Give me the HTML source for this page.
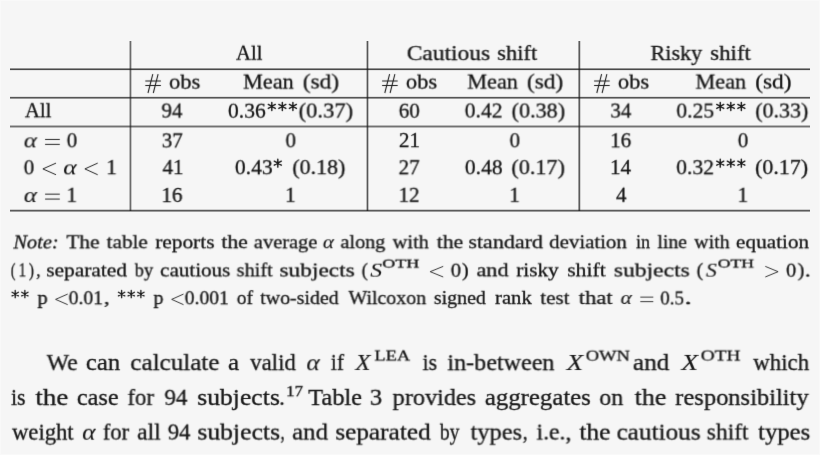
<!DOCTYPE html>
<html><head><meta charset="utf-8"><title>Table 3</title>
<style>
html,body{margin:0;padding:0}
body{width:820px;height:455px;background:#f6f6f6;position:relative;overflow:hidden;font-family:"Liberation Serif",serif;color:#161616}
.t{position:absolute;left:0;top:0;white-space:nowrap;line-height:1;transform-origin:0 0;-webkit-text-stroke:0.3px #161616}
.sup{font-size:0.7em;position:relative;top:-0.5em;font-style:normal;letter-spacing:0.02em}
.l{position:absolute;background:#1a1a1a}
.bd{position:absolute;left:0;top:0;width:820px;height:455px;box-sizing:border-box;border:1px solid #f9f9f9}
.w{position:absolute;left:0;top:0;width:820px;height:455px;filter:url(#soft)}
</style></head>
<body>

<svg width="0" height="0" style="position:absolute"><filter id="soft" x="0" y="0" width="100%" height="100%" color-interpolation-filters="sRGB"><feConvolveMatrix order="3" kernelMatrix="0.0049 0.0602 0.0049 0.0602 0.7396 0.0602 0.0049 0.0602 0.0049" edgeMode="duplicate" preserveAlpha="false"/></filter></svg>
<div class="bd"></div>
<div class="l" style="left:10px;top:68px;width:800px;height:1px;opacity:0.44"></div>
<div class="l" style="left:10px;top:69px;width:800px;height:1px;opacity:0.78"></div>
<div class="l" style="left:10px;top:70px;width:800px;height:1px;opacity:0.08"></div>
<div class="l" style="left:10px;top:96px;width:800px;height:1px;opacity:0.10"></div>
<div class="l" style="left:10px;top:97px;width:800px;height:1px;opacity:0.73"></div>
<div class="l" style="left:10px;top:98px;width:800px;height:1px;opacity:0.43"></div>
<div class="l" style="left:10px;top:125px;width:800px;height:1px;opacity:0.28"></div>
<div class="l" style="left:10px;top:126px;width:800px;height:1px;opacity:0.60"></div>
<div class="l" style="left:10px;top:127px;width:800px;height:1px;opacity:0.28"></div>
<div class="l" style="left:10px;top:209px;width:800px;height:1px;opacity:0.18"></div>
<div class="l" style="left:10px;top:210px;width:800px;height:1px;opacity:0.70"></div>
<div class="l" style="left:10px;top:211px;width:800px;height:1px;opacity:0.40"></div>
<div class="l" style="left:129px;top:41px;width:1px;height:170px;opacity:0.28"></div>
<div class="l" style="left:130px;top:41px;width:1px;height:170px;opacity:0.63"></div>
<div class="l" style="left:131px;top:41px;width:1px;height:170px;opacity:0.22"></div>
<div class="l" style="left:366px;top:41px;width:1px;height:170px;opacity:0.28"></div>
<div class="l" style="left:367px;top:41px;width:1px;height:170px;opacity:0.73"></div>
<div class="l" style="left:368px;top:41px;width:1px;height:170px;opacity:0.24"></div>
<div class="l" style="left:578px;top:41px;width:1px;height:170px;opacity:0.40"></div>
<div class="l" style="left:579px;top:41px;width:1px;height:170px;opacity:0.70"></div>
<div class="l" style="left:580px;top:41px;width:1px;height:170px;opacity:0.16"></div>
<div class="w">
<svg style="position:absolute;left:0;top:0" width="820" height="455" viewBox="0 0 820 455" fill="none" stroke="#1a1a1a" stroke-width="1.05" stroke-linecap="butt"><path d="M145.30 80.95H160.90M145.30 85.5H160.90M148.00 93L152.80 74.1M153.30 93L158.10 74.1"/><path d="M382.10 80.95H397.70M382.10 85.5H397.70M384.80 93L389.60 74.1M390.10 93L394.90 74.1"/><path d="M594.10 80.95H609.70M594.10 85.5H609.70M596.80 93L601.60 74.1M602.10 93L606.90 74.1"/><path stroke-width="0.95" d="M45.10 139.46H59.80M45.10 144.39H59.80"/><path stroke-width="0.95" stroke-linejoin="miter" d="M56.00 163.11L42.90 168.92L56.00 174.74"/><path stroke-width="0.95" stroke-linejoin="miter" d="M97.70 163.11L84.90 168.92L97.70 174.74"/><path stroke-width="0.95" d="M45.10 194.16H59.80M45.10 199.09H59.80"/><path stroke-width="0.87" stroke-linejoin="miter" d="M443.20 266.39L430.20 271.68L443.20 276.97"/><path stroke-width="0.87" stroke-linejoin="miter" d="M765.30 266.39L778.10 271.68L765.30 276.97"/><path stroke-width="0.87" stroke-linejoin="miter" d="M67.70 294.09L55.60 299.38L67.70 304.67"/><path stroke-width="0.87" stroke-linejoin="miter" d="M183.50 294.09L171.70 299.38L183.50 304.67"/><path stroke-width="0.87" d="M640.30 297.13H653.30M640.30 301.64H653.30"/><path stroke-width="1.45" stroke-linecap="round" d="M271.80 102.45V110.43M268.30 104.45L275.30 108.44M268.30 108.44L275.30 104.45"/><circle cx="271.80" cy="106.44" r="1.32" fill="#1a1a1a" stroke="none"/><path stroke-width="1.45" stroke-linecap="round" d="M282.35 102.45V110.43M278.85 104.45L285.85 108.44M278.85 108.44L285.85 104.45"/><circle cx="282.35" cy="106.44" r="1.32" fill="#1a1a1a" stroke="none"/><path stroke-width="1.45" stroke-linecap="round" d="M292.90 102.45V110.43M289.40 104.45L296.40 108.44M289.40 108.44L296.40 104.45"/><circle cx="292.90" cy="106.44" r="1.32" fill="#1a1a1a" stroke="none"/><path stroke-width="1.45" stroke-linecap="round" d="M720.25 102.45V110.43M716.75 104.45L723.75 108.44M716.75 108.44L723.75 104.45"/><circle cx="720.25" cy="106.44" r="1.32" fill="#1a1a1a" stroke="none"/><path stroke-width="1.45" stroke-linecap="round" d="M730.80 102.45V110.43M727.30 104.45L734.30 108.44M727.30 108.44L734.30 104.45"/><circle cx="730.80" cy="106.44" r="1.32" fill="#1a1a1a" stroke="none"/><path stroke-width="1.45" stroke-linecap="round" d="M741.35 102.45V110.43M737.85 104.45L744.85 108.44M737.85 108.44L744.85 104.45"/><circle cx="741.35" cy="106.44" r="1.32" fill="#1a1a1a" stroke="none"/><path stroke-width="1.45" stroke-linecap="round" d="M277.80 159.15V167.13M274.30 161.15L281.30 165.14M274.30 165.14L281.30 161.15"/><circle cx="277.80" cy="163.14" r="1.32" fill="#1a1a1a" stroke="none"/><path stroke-width="1.45" stroke-linecap="round" d="M720.25 159.15V167.13M716.75 161.15L723.75 165.14M716.75 165.14L723.75 161.15"/><circle cx="720.25" cy="163.14" r="1.32" fill="#1a1a1a" stroke="none"/><path stroke-width="1.45" stroke-linecap="round" d="M730.80 159.15V167.13M727.30 161.15L734.30 165.14M727.30 165.14L734.30 161.15"/><circle cx="730.80" cy="163.14" r="1.32" fill="#1a1a1a" stroke="none"/><path stroke-width="1.45" stroke-linecap="round" d="M741.35 159.15V167.13M737.85 161.15L744.85 165.14M737.85 165.14L744.85 161.15"/><circle cx="741.35" cy="163.14" r="1.32" fill="#1a1a1a" stroke="none"/><path stroke-width="1.32" stroke-linecap="round" d="M15.23 290.49V297.71M12.06 292.30L18.40 295.91M12.06 295.91L18.40 292.30"/><circle cx="15.23" cy="294.10" r="1.20" fill="#1a1a1a" stroke="none"/><path stroke-width="1.32" stroke-linecap="round" d="M24.87 290.49V297.71M21.70 292.30L28.04 295.91M21.70 295.91L28.04 292.30"/><circle cx="24.87" cy="294.10" r="1.20" fill="#1a1a1a" stroke="none"/><path stroke-width="1.32" stroke-linecap="round" d="M121.61 290.49V297.71M118.44 292.30L124.79 295.91M118.44 295.91L124.79 292.30"/><circle cx="121.61" cy="294.10" r="1.20" fill="#1a1a1a" stroke="none"/><path stroke-width="1.32" stroke-linecap="round" d="M131.25 290.49V297.71M128.08 292.30L134.42 295.91M128.08 295.91L134.42 292.30"/><circle cx="131.25" cy="294.10" r="1.20" fill="#1a1a1a" stroke="none"/><path stroke-width="1.32" stroke-linecap="round" d="M140.88 290.49V297.71M137.71 292.30L144.06 295.91M137.71 295.91L144.06 292.30"/><circle cx="140.88" cy="294.10" r="1.20" fill="#1a1a1a" stroke="none"/></svg>
<div class="t" style="font-size:20.40px;transform:translate(235.98px,42.70px) rotateX(0.01deg) scale(1.0115,1.0000)">All</div>
<div class="t" style="font-size:20.40px;transform:translate(406.70px,43.08px) rotateX(0.01deg) scale(1.1510,1.0000)">Cautious</div>
<div class="t" style="font-size:20.40px;transform:translate(497.34px,42.91px) rotateX(0.01deg) scale(1.1028,1.0000)">shift</div>
<div class="t" style="font-size:20.40px;transform:translate(650.61px,42.94px) rotateX(0.01deg) scale(1.0830,1.0000)">Risky</div>
<div class="t" style="font-size:20.40px;transform:translate(710.31px,42.90px) rotateX(0.01deg) scale(1.1167,1.0000)">shift</div>
<div class="t" style="font-size:20.40px;transform:translate(169.17px,71.63px) rotateX(0.01deg) scale(1.0945,1.0000)">obs</div>
<div class="t" style="font-size:20.40px;transform:translate(405.98px,71.62px) rotateX(0.01deg) scale(1.0945,1.0000)">obs</div>
<div class="t" style="font-size:20.40px;transform:translate(617.98px,71.62px) rotateX(0.01deg) scale(1.0945,1.0000)">obs</div>
<div class="t" style="font-size:20.40px;transform:translate(243.19px,71.59px) rotateX(0.01deg) scale(1.0891,1.0000)">Mean</div>
<div class="t" style="font-size:20.40px;transform:translate(302.69px,71.45px) rotateX(0.01deg) scale(1.1443,1.0000)">(sd)</div>
<div class="t" style="font-size:20.40px;transform:translate(467.34px,71.59px) rotateX(0.01deg) scale(1.0891,1.0000)">Mean</div>
<div class="t" style="font-size:20.40px;transform:translate(526.79px,71.45px) rotateX(0.01deg) scale(1.1443,1.0000)">(sd)</div>
<div class="t" style="font-size:20.40px;transform:translate(695.58px,71.59px) rotateX(0.01deg) scale(1.0891,1.0000)">Mean</div>
<div class="t" style="font-size:20.40px;transform:translate(755.10px,71.46px) rotateX(0.01deg) scale(1.1443,1.0000)">(sd)</div>
<div class="t" style="font-size:20.40px;transform:translate(24.88px,100.22px) rotateX(0.01deg) scale(1.0192,1.0000)">All</div>
<div class="t" style="font-size:20.40px;transform:translate(161.52px,100.51px) rotateX(0.01deg) scale(1.0300,1.0000)">94</div>
<div class="t" style="font-size:20.40px;transform:translate(228.05px,100.72px) rotateX(0.01deg) scale(1.0543,1.0000)">0.36</div>
<div class="t" style="font-size:20.40px;transform:translate(298.67px,100.55px) rotateX(0.01deg) scale(1.1021,1.0000)">(0.37)</div>
<div class="t" style="font-size:20.40px;transform:translate(398.77px,100.70px) rotateX(0.01deg) scale(1.0300,1.0000)">60</div>
<div class="t" style="font-size:20.40px;transform:translate(464.80px,100.44px) rotateX(0.01deg) scale(1.0551,1.0000)">0.42</div>
<div class="t" style="font-size:20.40px;transform:translate(511.59px,100.55px) rotateX(0.01deg) scale(1.0854,1.0000)">(0.38)</div>
<div class="t" style="font-size:20.40px;transform:translate(610.36px,100.53px) rotateX(0.01deg) scale(1.0300,1.0000)">34</div>
<div class="t" style="font-size:20.40px;transform:translate(676.41px,100.62px) rotateX(0.01deg) scale(1.0580,1.0000)">0.25</div>
<div class="t" style="font-size:20.40px;transform:translate(755.33px,100.53px) rotateX(0.01deg) scale(1.0750,1.0000)">(0.33)</div>
<div class="t" style="font-size:20.40px;transform:translate(23.74px,129.36px) rotateX(0.01deg) scale(1.2286,1.0300)"><i style="-webkit-text-stroke:0.1px #161616">α</i></div>
<div class="t" style="font-size:20.40px;transform:translate(66.76px,130.29px) rotateX(0.01deg) scale(1.0300,1.0000)">0</div>
<div class="t" style="font-size:20.40px;transform:translate(161.76px,130.41px) rotateX(0.01deg) scale(1.0300,1.0000)">37</div>
<div class="t" style="font-size:20.40px;transform:translate(285.47px,130.29px) rotateX(0.01deg) scale(1.0300,1.0000)">0</div>
<div class="t" style="font-size:20.40px;transform:translate(398.94px,130.03px) rotateX(0.01deg) scale(1.0300,1.0000)">21</div>
<div class="t" style="font-size:20.40px;transform:translate(509.55px,130.29px) rotateX(0.01deg) scale(1.0300,1.0000)">0</div>
<div class="t" style="font-size:20.40px;transform:translate(610.18px,130.28px) rotateX(0.01deg) scale(1.0300,1.0000)">16</div>
<div class="t" style="font-size:20.40px;transform:translate(737.82px,130.29px) rotateX(0.01deg) scale(1.0300,1.0000)">0</div>
<div class="t" style="font-size:20.40px;transform:translate(23.76px,157.29px) rotateX(0.01deg) scale(1.0300,1.0000)">0</div>
<div class="t" style="font-size:20.40px;transform:translate(63.21px,156.35px) rotateX(0.01deg) scale(1.2571,1.0300)"><i style="-webkit-text-stroke:0.1px #161616">α</i></div>
<div class="t" style="font-size:20.40px;transform:translate(106.28px,157.08px) rotateX(0.01deg) scale(1.0300,1.0000)">1</div>
<div class="t" style="font-size:20.40px;transform:translate(162.49px,157.03px) rotateX(0.01deg) scale(1.0300,1.0000)">41</div>
<div class="t" style="font-size:20.40px;transform:translate(234.97px,157.21px) rotateX(0.01deg) scale(1.0551,1.0000)">0.43</div>
<div class="t" style="font-size:20.40px;transform:translate(292.41px,157.11px) rotateX(0.01deg) scale(1.0729,1.0000)">(0.18)</div>
<div class="t" style="font-size:20.40px;transform:translate(398.60px,157.20px) rotateX(0.01deg) scale(1.0300,1.0000)">27</div>
<div class="t" style="font-size:20.40px;transform:translate(464.87px,157.19px) rotateX(0.01deg) scale(1.0551,1.0000)">0.48</div>
<div class="t" style="font-size:20.40px;transform:translate(511.42px,157.14px) rotateX(0.01deg) scale(1.0854,1.0000)">(0.17)</div>
<div class="t" style="font-size:20.40px;transform:translate(610.04px,157.03px) rotateX(0.01deg) scale(1.0300,1.0000)">14</div>
<div class="t" style="font-size:20.40px;transform:translate(676.30px,157.24px) rotateX(0.01deg) scale(1.0580,1.0000)">0.32</div>
<div class="t" style="font-size:20.40px;transform:translate(755.20px,157.11px) rotateX(0.01deg) scale(1.0750,1.0000)">(0.17)</div>
<div class="t" style="font-size:20.40px;transform:translate(23.75px,184.06px) rotateX(0.01deg) scale(1.2286,1.0300)"><i style="-webkit-text-stroke:0.1px #161616">α</i></div>
<div class="t" style="font-size:20.40px;transform:translate(66.49px,184.79px) rotateX(0.01deg) scale(1.0300,1.0000)">1</div>
<div class="t" style="font-size:20.40px;transform:translate(161.40px,184.99px) rotateX(0.01deg) scale(1.0300,1.0000)">16</div>
<div class="t" style="font-size:20.40px;transform:translate(285.15px,184.79px) rotateX(0.01deg) scale(1.0300,1.0000)">1</div>
<div class="t" style="font-size:20.40px;transform:translate(398.51px,184.76px) rotateX(0.01deg) scale(1.0300,1.0000)">12</div>
<div class="t" style="font-size:20.40px;transform:translate(509.28px,184.80px) rotateX(0.01deg) scale(1.0300,1.0000)">1</div>
<div class="t" style="font-size:20.40px;transform:translate(615.98px,184.72px) rotateX(0.01deg) scale(1.0300,1.0000)">4</div>
<div class="t" style="font-size:20.40px;transform:translate(737.56px,184.78px) rotateX(0.01deg) scale(1.0300,1.0000)">1</div>
<div class="t" style="font-size:18.90px;transform:translate(13.32px,233.43px) rotateX(0.01deg) scale(1.0805,1.0000)"><i>Note:</i></div>
<div class="t" style="font-size:18.90px;transform:translate(66.44px,233.28px) rotateX(0.01deg) scale(1.1241,1.0000)">The</div>
<div class="t" style="font-size:18.90px;transform:translate(106.63px,233.25px) rotateX(0.01deg) scale(1.1205,1.0000)">table</div>
<div class="t" style="font-size:18.90px;transform:translate(155.16px,233.27px) rotateX(0.01deg) scale(1.1308,1.0000)">reports</div>
<div class="t" style="font-size:18.90px;transform:translate(221.28px,233.18px) rotateX(0.01deg) scale(1.1511,1.0000)">the</div>
<div class="t" style="font-size:18.90px;transform:translate(253.78px,233.29px) rotateX(0.01deg) scale(1.0828,1.0000)">average</div>
<div class="t" style="font-size:18.90px;transform:translate(322.98px,233.22px) rotateX(0.01deg) scale(1.1100,1.0000)"><i style="-webkit-text-stroke:0.1px #161616">α</i></div>
<div class="t" style="font-size:18.90px;transform:translate(340.50px,233.17px) rotateX(0.01deg) scale(1.0699,1.0000)">along</div>
<div class="t" style="font-size:18.90px;transform:translate(392.70px,233.27px) rotateX(0.01deg) scale(1.0776,1.0000)">with</div>
<div class="t" style="font-size:18.90px;transform:translate(436.66px,233.18px) rotateX(0.01deg) scale(1.1511,1.0000)">the</div>
<div class="t" style="font-size:18.90px;transform:translate(468.32px,233.24px) rotateX(0.01deg) scale(1.1669,1.0000)">standard</div>
<div class="t" style="font-size:18.90px;transform:translate(549.27px,233.25px) rotateX(0.01deg) scale(1.1043,1.0000)">deviation</div>
<div class="t" style="font-size:18.90px;transform:translate(635.99px,233.19px) rotateX(0.01deg) scale(0.9517,1.0000)">in</div>
<div class="t" style="font-size:18.90px;transform:translate(657.43px,233.13px) rotateX(0.01deg) scale(1.0429,1.0000)">line</div>
<div class="t" style="font-size:18.90px;transform:translate(694.28px,233.23px) rotateX(0.01deg) scale(1.0537,1.0000)">with</div>
<div class="t" style="font-size:18.90px;transform:translate(736.04px,233.25px) rotateX(0.01deg) scale(1.1225,1.0000)">equation</div>
<div class="t" style="font-size:18.90px;transform:translate(10.83px,261.34px) rotateX(0.01deg) scale(0.7455,1.0000)">(</div>
<div class="t" style="font-size:18.90px;transform:translate(18.56px,261.32px) rotateX(0.01deg) scale(0.8000,1.0000)">1</div>
<div class="t" style="font-size:18.90px;transform:translate(28.90px,261.33px) rotateX(0.01deg) scale(0.8200,1.0000)">)</div>
<div class="t" style="font-size:18.90px;transform:translate(36.11px,261.18px) rotateX(0.01deg) scale(0.9429,1.0000)">,</div>
<div class="t" style="font-size:18.90px;transform:translate(46.16px,261.39px) rotateX(0.01deg) scale(1.1324,1.0000)">separated</div>
<div class="t" style="font-size:18.90px;transform:translate(134.60px,261.43px) rotateX(0.01deg) scale(0.9737,1.0000)">by</div>
<div class="t" style="font-size:18.90px;transform:translate(160.23px,261.41px) rotateX(0.01deg) scale(1.1129,1.0000)">cautious</div>
<div class="t" style="font-size:18.90px;transform:translate(236.64px,261.35px) rotateX(0.01deg) scale(1.0746,1.0000)">shift</div>
<div class="t" style="font-size:18.90px;transform:translate(279.46px,261.44px) rotateX(0.01deg) scale(1.2367,1.0000)">subjects</div>
<div class="t" style="font-size:18.90px;transform:translate(361.65px,261.32px) rotateX(0.01deg) scale(0.9818,1.0000)">(</div>
<div class="t" style="font-size:18.90px;transform:translate(370.25px,261.63px) rotateX(0.01deg) scale(1.2526,1.0000)"><i style="-webkit-text-stroke:0.1px #161616">S</i></div>
<div class="t" style="font-size:18.90px;transform:translate(450.81px,261.68px) rotateX(0.01deg) scale(1.0941,1.0000)">0</div>
<div class="t" style="font-size:18.90px;transform:translate(462.04px,261.34px) rotateX(0.01deg) scale(1.0600,1.0000)">)</div>
<div class="t" style="font-size:18.90px;transform:translate(476.38px,261.28px) rotateX(0.01deg) scale(1.1815,1.0000)">and</div>
<div class="t" style="font-size:18.90px;transform:translate(516.08px,261.37px) rotateX(0.01deg) scale(1.1289,1.0000)">risky</div>
<div class="t" style="font-size:18.90px;transform:translate(567.13px,261.32px) rotateX(0.01deg) scale(1.1522,1.0000)">shift</div>
<div class="t" style="font-size:18.90px;transform:translate(613.79px,261.45px) rotateX(0.01deg) scale(1.2467,1.0000)">subjects</div>
<div class="t" style="font-size:18.90px;transform:translate(696.65px,261.31px) rotateX(0.01deg) scale(1.0545,1.0000)">(</div>
<div class="t" style="font-size:18.90px;transform:translate(705.81px,261.64px) rotateX(0.01deg) scale(1.1474,1.0000)"><i style="-webkit-text-stroke:0.1px #161616">S</i></div>
<div class="t" style="font-size:18.90px;transform:translate(786.19px,261.66px) rotateX(0.01deg) scale(1.0706,1.0000)">0</div>
<div class="t" style="font-size:18.90px;transform:translate(797.65px,261.37px) rotateX(0.01deg) scale(1.0800,1.0000)">)</div>
<div class="t" style="font-size:18.90px;transform:translate(804.80px,261.58px) rotateX(0.01deg) scale(1.2400,1.0000)">.</div>
<div class="t" style="font-size:12.40px;transform:translate(382.20px,257.57px) rotateX(0.01deg) scale(1.4560,1.0000)">OTH</div>
<div class="t" style="font-size:12.40px;transform:translate(717.67px,257.56px) rotateX(0.01deg) scale(1.4280,1.0000)">OTH</div>
<div class="t" style="font-size:18.90px;transform:translate(37.49px,288.97px) rotateX(0.01deg) scale(1.0889,1.0000)">p</div>
<div class="t" style="font-size:18.90px;transform:translate(68.67px,289.23px) rotateX(0.01deg) scale(1.0349,1.0000)">0.01</div>
<div class="t" style="font-size:18.90px;transform:translate(103.77px,288.89px) rotateX(0.01deg) scale(1.2571,1.0000)">,</div>
<div class="t" style="font-size:18.90px;transform:translate(153.52px,288.98px) rotateX(0.01deg) scale(1.0556,1.0000)">p</div>
<div class="t" style="font-size:18.90px;transform:translate(184.75px,289.25px) rotateX(0.01deg) scale(1.0341,1.0000)">0.001</div>
<div class="t" style="font-size:18.90px;transform:translate(236.83px,289.04px) rotateX(0.01deg) scale(1.0194,1.0000)">of</div>
<div class="t" style="font-size:18.90px;transform:translate(260.28px,289.07px) rotateX(0.01deg) scale(1.0523,1.0000)">two-sided</div>
<div class="t" style="font-size:18.90px;transform:translate(348.49px,289.08px) rotateX(0.01deg) scale(1.0517,1.0000)">Wilcoxon</div>
<div class="t" style="font-size:18.90px;transform:translate(433.91px,289.03px) rotateX(0.01deg) scale(1.0531,1.0000)">signed</div>
<div class="t" style="font-size:18.90px;transform:translate(495.06px,288.91px) rotateX(0.01deg) scale(1.0912,1.0000)">rank</div>
<div class="t" style="font-size:18.90px;transform:translate(540.33px,289.13px) rotateX(0.01deg) scale(1.1170,1.0000)">test</div>
<div class="t" style="font-size:18.90px;transform:translate(578.75px,288.98px) rotateX(0.01deg) scale(1.1895,1.0000)">that</div>
<div class="t" style="font-size:18.90px;transform:translate(620.71px,288.99px) rotateX(0.01deg) scale(1.1200,1.0000)"><i style="-webkit-text-stroke:0.1px #161616">α</i></div>
<div class="t" style="font-size:18.90px;transform:translate(660.31px,289.45px) rotateX(0.01deg) scale(1.0000,1.0000)">0.5</div>
<div class="t" style="font-size:18.90px;transform:translate(684.25px,289.21px) rotateX(0.01deg) scale(1.6400,1.0000)">.</div>
<div class="t" style="font-size:22.30px;transform:translate(46.70px,352.13px) rotateX(0.01deg) scale(1.0596,1.0000)">We</div>
<div class="t" style="font-size:22.30px;transform:translate(85.94px,352.00px) rotateX(0.01deg) scale(1.1016,1.0000)">can</div>
<div class="t" style="font-size:22.30px;transform:translate(130.40px,352.09px) rotateX(0.01deg) scale(1.1244,1.0000)">calculate</div>
<div class="t" style="font-size:22.30px;transform:translate(228.17px,351.98px) rotateX(0.01deg) scale(1.1158,1.0000)">a</div>
<div class="t" style="font-size:22.30px;transform:translate(250.18px,352.11px) rotateX(0.01deg) scale(1.0225,1.0000)">valid</div>
<div class="t" style="font-size:22.30px;transform:translate(306.37px,352.19px) rotateX(0.01deg) scale(1.1391,1.0000)"><i style="-webkit-text-stroke:0.1px #161616">α</i></div>
<div class="t" style="font-size:22.30px;transform:translate(330.72px,351.84px) rotateX(0.01deg) scale(0.9643,1.0000)">if</div>
<div class="t" style="font-size:22.30px;transform:translate(355.43px,351.90px) rotateX(0.01deg) scale(1.1032,1.0000)"><i style="-webkit-text-stroke:0.1px #161616">X</i></div>
<div class="t" style="font-size:22.30px;transform:translate(422.53px,352.01px) rotateX(0.01deg) scale(0.9862,1.0000)">is</div>
<div class="t" style="font-size:22.30px;transform:translate(447.45px,352.15px) rotateX(0.01deg) scale(1.0808,1.0000)">in-between</div>
<div class="t" style="font-size:22.30px;transform:translate(566.62px,351.94px) rotateX(0.01deg) scale(1.2000,1.0000)"><i style="-webkit-text-stroke:0.1px #161616">X</i></div>
<div class="t" style="font-size:22.30px;transform:translate(632.75px,352.02px) rotateX(0.01deg) scale(1.1365,1.0000)">and</div>
<div class="t" style="font-size:22.30px;transform:translate(681.32px,351.91px) rotateX(0.01deg) scale(1.2194,1.0000)"><i style="-webkit-text-stroke:0.1px #161616">X</i></div>
<div class="t" style="font-size:22.30px;transform:translate(753.26px,352.04px) rotateX(0.01deg) scale(1.0257,1.0000)">which</div>
<div class="t" style="font-size:15.50px;transform:translate(374.35px,347.47px) rotateX(0.01deg) scale(1.1867,1.0000)">LEA</div>
<div class="t" style="font-size:15.50px;transform:translate(585.65px,347.64px) rotateX(0.01deg) scale(1.1973,1.0000)">OWN</div>
<div class="t" style="font-size:15.50px;transform:translate(700.63px,347.56px) rotateX(0.01deg) scale(1.2516,1.0000)">OTH</div>
<div class="t" style="font-size:22.30px;transform:translate(11.00px,386.88px) rotateX(0.01deg) scale(0.9793,1.0000)">is</div>
<div class="t" style="font-size:22.30px;transform:translate(35.30px,387.01px) rotateX(0.01deg) scale(1.2075,1.0000)">the</div>
<div class="t" style="font-size:22.30px;transform:translate(76.95px,386.95px) rotateX(0.01deg) scale(1.0880,1.0000)">case</div>
<div class="t" style="font-size:22.30px;transform:translate(127.48px,386.86px) rotateX(0.01deg) scale(1.0157,1.0000)">for</div>
<div class="t" style="font-size:22.30px;transform:translate(164.44px,386.82px) rotateX(0.01deg) scale(1.0326,1.0000)">94</div>
<div class="t" style="font-size:22.30px;transform:translate(197.06px,386.99px) rotateX(0.01deg) scale(1.1518,1.0000)">subjects</div>
<div class="t" style="font-size:22.30px;transform:translate(279.19px,386.98px) rotateX(0.01deg) scale(1.0000,1.0000)">.</div>
<div class="t" style="font-size:22.30px;transform:translate(308.24px,386.95px) rotateX(0.01deg) scale(1.0948,1.0000)">Table</div>
<div class="t" style="font-size:22.30px;transform:translate(369.77px,386.76px) rotateX(0.01deg) scale(1.1053,1.0000)">3</div>
<div class="t" style="font-size:22.30px;transform:translate(392.70px,387.00px) rotateX(0.01deg) scale(1.0868,1.0000)">provides</div>
<div class="t" style="font-size:22.30px;transform:translate(484.96px,386.94px) rotateX(0.01deg) scale(1.1096,1.0000)">aggregates</div>
<div class="t" style="font-size:22.30px;transform:translate(599.41px,386.95px) rotateX(0.01deg) scale(1.0605,1.0000)">on</div>
<div class="t" style="font-size:22.30px;transform:translate(634.49px,386.99px) rotateX(0.01deg) scale(1.1660,1.0000)">the</div>
<div class="t" style="font-size:22.30px;transform:translate(675.29px,386.96px) rotateX(0.01deg) scale(1.0979,1.0000)">responsibility</div>
<div class="t" style="font-size:15.50px;transform:translate(286.12px,383.14px) rotateX(0.01deg) scale(1.0966,1.0000)">17</div>
<div class="t" style="font-size:22.30px;transform:translate(12.07px,421.63px) rotateX(0.01deg) scale(1.0148,1.0000)">weight</div>
<div class="t" style="font-size:22.30px;transform:translate(82.02px,421.69px) rotateX(0.01deg) scale(1.1391,1.0000)"><i style="-webkit-text-stroke:0.1px #161616">α</i></div>
<div class="t" style="font-size:22.30px;transform:translate(102.79px,421.51px) rotateX(0.01deg) scale(1.0118,1.0000)">for</div>
<div class="t" style="font-size:22.30px;transform:translate(137.24px,421.53px) rotateX(0.01deg) scale(1.0558,1.0000)">all</div>
<div class="t" style="font-size:22.30px;transform:translate(167.82px,421.46px) rotateX(0.01deg) scale(1.0093,1.0000)">94</div>
<div class="t" style="font-size:22.30px;transform:translate(197.24px,421.62px) rotateX(0.01deg) scale(1.1532,1.0000)">subjects</div>
<div class="t" style="font-size:22.30px;transform:translate(280.50px,420.73px) rotateX(0.01deg) scale(0.7500,1.0000)">,</div>
<div class="t" style="font-size:22.30px;transform:translate(292.24px,421.56px) rotateX(0.01deg) scale(1.1079,1.0000)">and</div>
<div class="t" style="font-size:22.30px;transform:translate(335.23px,421.62px) rotateX(0.01deg) scale(1.1341,1.0000)">separated</div>
<div class="t" style="font-size:22.30px;transform:translate(439.73px,421.66px) rotateX(0.01deg) scale(0.8756,1.0000)">by</div>
<div class="t" style="font-size:22.30px;transform:translate(470.64px,421.67px) rotateX(0.01deg) scale(1.0903,1.0000)">types</div>
<div class="t" style="font-size:22.30px;transform:translate(522.57px,420.78px) rotateX(0.01deg) scale(0.8750,1.0000)">,</div>
<div class="t" style="font-size:22.30px;transform:translate(536.56px,421.52px) rotateX(0.01deg) scale(1.0635,1.0000)">i.e.,</div>
<div class="t" style="font-size:22.30px;transform:translate(579.22px,421.64px) rotateX(0.01deg) scale(1.1472,1.0000)">the</div>
<div class="t" style="font-size:22.30px;transform:translate(616.49px,421.66px) rotateX(0.01deg) scale(1.1315,1.0000)">cautious</div>
<div class="t" style="font-size:22.30px;transform:translate(706.68px,421.47px) rotateX(0.01deg) scale(1.0532,1.0000)">shift</div>
<div class="t" style="font-size:22.30px;transform:translate(758.22px,421.67px) rotateX(0.01deg) scale(1.1054,1.0000)">types</div>
</div>
</body></html>
